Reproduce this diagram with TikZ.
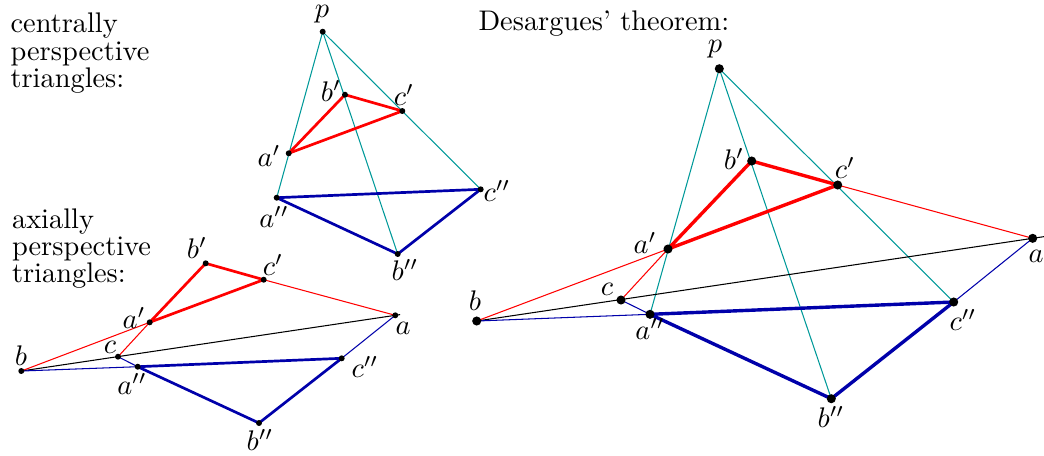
\documentclass[tikz,border=0pt]{standalone}
\usetikzlibrary{calc}
\definecolor{tealln}{RGB}{0,153,153}
\definecolor{dblue}{RGB}{0,0,170}
\begin{document}
\begin{tikzpicture}[x=0.3525pt,y=-0.3525pt,font=\fontsize{10}{9.6}\selectfont,
  thinln/.style={line width=0.37pt},
  triL/.style={line width=0.95pt,line join=round},
  triR/.style={line width=1.2pt,line join=round},
  lbl/.style={inner sep=0pt},
  txt/.style={anchor=north west,inner sep=0pt,align=left}]
\useasboundingbox (0,0) rectangle (1044,455);
% texts
\node[txt] (txtC) at (10,12.5) {centrally\\perspective\\triangles:};
\node[txt] (txtA) at (11.5,208) {axially\\perspective\\triangles:};
\node[anchor=base west,inner sep=0pt] (txtD) at (478,30) {Desargues' theorem:};
% central perspective
\coordinate (cp-p) at (322.7,31.7);
\coordinate (cp-b1) at (345,94.7);
\coordinate (cp-c1) at (402.3,111);
\coordinate (cp-a1) at (288.7,153.3);
\coordinate (cp-a2) at (276.7,197.7);
\coordinate (cp-c2) at (480.7,189.3);
\coordinate (cp-b2) at (397.7,254);
\draw[thinln,tealln] (cp-p) -- (cp-a2);
\draw[thinln,tealln] (cp-p) -- (cp-b2);
\draw[thinln,tealln] (cp-p) -- (cp-c2);
\draw[triL,red] (cp-a1) -- (cp-b1) -- (cp-c1) -- cycle;
\draw[triL,dblue] (cp-a2) -- (cp-b2) -- (cp-c2) -- cycle;
\fill (cp-p) circle[radius=1.05pt] (cp-a1) circle[radius=1.05pt]
  (cp-b1) circle[radius=1.05pt] (cp-c1) circle[radius=1.05pt]
  (cp-a2) circle[radius=1.05pt] (cp-b2) circle[radius=1.05pt]
  (cp-c2) circle[radius=1.05pt];
\node[lbl] (cp-pl) at (322,14) {$p$};
\node[lbl] (cp-b1l) at (331,91) {$b'$};
\node[lbl] (cp-c1l) at (404,95) {$c'$};
\node[lbl] (cp-a1l) at (269,156) {$a'$};
\node[lbl] (cp-a2l) at (274,217) {$a''$};
\node[lbl] (cp-c2l) at (497,191) {$c''$};
\node[lbl] (cp-b2l) at (405,270) {$b''$};
% axial perspective
\coordinate (ax-b1) at (205.7,263.3);
\coordinate (ax-c1) at (263.7,279.7);
\coordinate (ax-a1) at (149.7,322.3);
\coordinate (ax-a) at (395.3,315.3);
\coordinate (ax-b) at (21.3,371);
\coordinate (ax-c) at (118,356.7);
\coordinate (ax-a2) at (137.7,366.7);
\coordinate (ax-c2) at (341.7,358.3);
\coordinate (ax-b2) at (259,423);
\coordinate (ax-end) at ($(ax-b)!1.013!(ax-a)$);
\draw[thinln] (ax-b) -- (ax-end);
\draw[thinln,red] (ax-c1) -- (ax-a);
\draw[thinln,red] (ax-a1) -- (ax-b);
\draw[thinln,red] (ax-a1) -- (ax-c);
\draw[thinln,dblue] (ax-a2) -- (ax-b);
\draw[thinln,dblue] (ax-c2) -- (ax-a);
\draw[thinln,dblue] (ax-a2) -- (ax-c);
\draw[triL,red] (ax-a1) -- (ax-b1) -- (ax-c1) -- cycle;
\draw[triL,dblue] (ax-a2) -- (ax-b2) -- (ax-c2) -- cycle;
\fill (ax-a) circle[radius=1.05pt] (ax-b) circle[radius=1.05pt]
  (ax-c) circle[radius=1.05pt] (ax-a1) circle[radius=1.05pt]
  (ax-b1) circle[radius=1.05pt] (ax-c1) circle[radius=1.05pt]
  (ax-a2) circle[radius=1.05pt] (ax-b2) circle[radius=1.05pt]
  (ax-c2) circle[radius=1.05pt];
\node[lbl] (ax-b1l) at (197,248) {$b'$};
\node[lbl] (ax-c1l) at (273,265) {$c'$};
\node[lbl] (ax-a1l) at (134,318) {$a'$};
\node[lbl] (ax-al) at (403,328) {$a$};
\node[lbl] (ax-bl) at (21,356) {$b$};
\node[lbl] (ax-cl) at (110,347) {$c$};
\node[lbl] (ax-a2l) at (132,384) {$a''$};
\node[lbl] (ax-c2l) at (365,367) {$c''$};
\node[lbl] (ax-b2l) at (260,440) {$b''$};
% Desargues
\coordinate (ds-p) at (719.3,68.7);
\coordinate (ds-b1) at (751.7,161);
\coordinate (ds-c1) at (837.7,185);
\coordinate (ds-a1) at (668,249);
\coordinate (ds-a) at (1032.7,238.3);
\coordinate (ds-b) at (476.7,321);
\coordinate (ds-c) at (621,300);
\coordinate (ds-a2) at (650,314.3);
\coordinate (ds-c2) at (953.7,302);
\coordinate (ds-b2) at (831.3,398.7);
\coordinate (ds-end) at ($(ds-b)!1.021!(ds-a)$);
\draw[thinln,tealln] (ds-p) -- (ds-a2);
\draw[thinln,tealln] (ds-p) -- (ds-b2);
\draw[thinln,tealln] (ds-p) -- (ds-c2);
\draw[thinln] (ds-b) -- (ds-end);
\draw[thinln,red] (ds-c1) -- (ds-a);
\draw[thinln,red] (ds-a1) -- (ds-b);
\draw[thinln,red] (ds-a1) -- (ds-c);
\draw[thinln,dblue] (ds-a2) -- (ds-b);
\draw[thinln,dblue] (ds-c2) -- (ds-a);
\draw[thinln,dblue] (ds-a2) -- (ds-c);
\draw[triR,red] (ds-a1) -- (ds-b1) -- (ds-c1) -- cycle;
\draw[triR,dblue] (ds-a2) -- (ds-b2) -- (ds-c2) -- cycle;
\fill (ds-p) circle[radius=1.6pt] (ds-a) circle[radius=1.6pt]
  (ds-b) circle[radius=1.6pt] (ds-c) circle[radius=1.6pt]
  (ds-a1) circle[radius=1.6pt] (ds-b1) circle[radius=1.6pt]
  (ds-c1) circle[radius=1.6pt] (ds-a2) circle[radius=1.6pt]
  (ds-b2) circle[radius=1.6pt] (ds-c2) circle[radius=1.6pt];
\node[lbl] (ds-pl) at (715,49) {$p$};
\node[lbl] (ds-b1l) at (734,159) {$b'$};
\node[lbl] (ds-c1l) at (845,168) {$c'$};
\node[lbl] (ds-a1l) at (645,243) {$a'$};
\node[lbl] (ds-al) at (1036,256) {$a$};
\node[lbl] (ds-bl) at (475,301) {$b$};
\node[lbl] (ds-cl) at (607,289) {$c$};
\node[lbl] (ds-a2l) at (650,329) {$a''$};
\node[lbl] (ds-c2l) at (963,320) {$c''$};
\node[lbl] (ds-b2l) at (831,417) {$b''$};
\end{tikzpicture}
\end{document}
